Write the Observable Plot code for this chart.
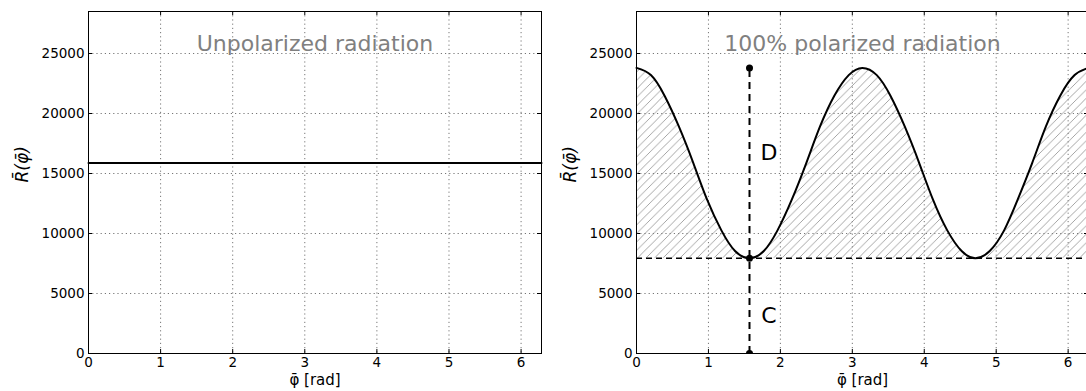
<!DOCTYPE html>
<html>
<head>
<meta charset="utf-8">
<script src="https://cdn.jsdelivr.net/npm/d3@7"></script>
<script src="https://cdn.jsdelivr.net/npm/@observablehq/plot@0.6"></script>
<style>
  html, body { margin: 0; padding: 0; background: white; }
  #wrap { position: relative; width: 1086px; height: 391px; overflow: hidden; background: white; }
  #wrap > div { position: absolute; top: 0; }
  #wrap svg { max-width: none !important; display: block; }
  svg text { font-family: "DejaVu Sans", sans-serif; }
</style>
</head>
<body>
<div id="wrap"><div id="p1" style="left:0px;width:560px"></div><div id="p2" style="left:547px;width:561px"></div></div>
<script>
// ---- data ----
const titles = ["Unpolarized radiation", "100% polarized radiation"];
const xTicks = [0, 1, 2, 3, 4, 5, 6];
const yTicks = [0, 5000, 10000, 15000, 20000, 25000];
const xDomain = [0, 6.2832];
const yDomain = [0, 28500];
const yLabel = "R\u0304(\u03C6\u0304)";
const xLabel = "\u03C6\u0304 [rad]";

// unpolarized: constant level
const phiUnpol = [0, 6.2832];
const rUnpol = [15870, 15870];

// polarized: curve samples
const phiPol = [0,0.2,0.39,0.59,0.79,0.98,1.18,1.37,1.57,1.77,1.96,2.16,2.36,2.55,2.75,2.95,3.14,3.34,3.53,3.73,3.93,4.12,4.32,4.52,4.71,4.91,5.11,5.3,5.5,5.69,5.89,6.09,6.2832];
const rPol = [23800,23200,21480,18900,15870,12840,10260,8540,7940,8540,10260,12840,15870,18900,21480,23200,23800,23200,21480,18900,15870,12840,10260,8540,7940,8540,10260,12840,15870,18900,21480,23200,23800];

// annotation values
const cLevel = 7940;      // minimum (C)
const dTop = 23800;       // maximum
const phiMarker = 1.5708; // position of the C/D marker
const annLabels = [{t: "D", x: 1.84, y: 16700}, {t: "C", x: 1.84, y: 3150}];

const unpol = phiUnpol.map((p, i) => ({phi: p, r: rUnpol[i]}));
const pol = phiPol.map((p, i) => ({phi: p, r: rPol[i]}));

const H = 391, MT = 11, MB = 38;
const plotH = H - MT - MB;

function common(ml, width, plotW, title) {
  return [
    Plot.gridX(xTicks.slice(1), {stroke: "#777", strokeOpacity: 1, strokeDasharray: "1.2,3"}),
    Plot.gridY(yTicks.slice(1), {stroke: "#777", strokeOpacity: 1, strokeDasharray: "1.2,3"}),
    // inward ticks
    Plot.ruleX(xTicks, {stroke: "black", insetTop: plotH - 4}),
    Plot.ruleX(xTicks, {stroke: "black", insetBottom: plotH - 4}),
    Plot.ruleY(yTicks, {stroke: "black", insetRight: plotW - 4}),
    Plot.ruleY(yTicks, {stroke: "black", insetLeft: plotW - 4}),
    Plot.axisX(xTicks, {tickSize: 0, tickPadding: 4, fontSize: 13.5, label: null, tickFormat: d => String(d)}),
    Plot.axisY(yTicks, {tickSize: 0, tickPadding: 4, fontSize: 13.5, label: null, tickFormat: d => String(d)}),
    Plot.text([title], {frameAnchor: "top", dy: 24, fontSize: 22, fill: "#808080"}),
    Plot.text([yLabel], {frameAnchor: "left", dx: -66, rotate: -90, fontSize: 17, fontStyle: "italic", fontFamily: "DejaVu Serif"}),
    Plot.text([xLabel], {frameAnchor: "bottom", dy: 31, fontSize: 15}),
  ];
}

// ---- panel 1 ----
{
  const ml = 88, width = 560, mr = width - ml - 453;
  const plotW = width - ml - mr;
  const chart = Plot.plot({
    width, height: H, marginLeft: ml, marginRight: mr, marginTop: MT, marginBottom: MB,
    style: {fontFamily: "DejaVu Sans", fontSize: "13.5px", background: "white", color: "black"},
    x: {domain: xDomain, axis: null},
    y: {domain: yDomain, axis: null},
    marks: [
      ...common(ml, width, plotW, titles[0]),
      Plot.line(unpol, {x: "phi", y: "r", stroke: "black", strokeWidth: 2}),
      Plot.frame({stroke: "black", strokeWidth: 1})
    ]
  });
  document.getElementById("p1").appendChild(chart);
}

// ---- panel 2 ----
{
  const ml = 89, width = 561, mr = width - ml - 452;
  const plotW = width - ml - mr;
  const chart = Plot.plot({
    width, height: H, marginLeft: ml, marginRight: mr, marginTop: MT, marginBottom: MB,
    style: {fontFamily: "DejaVu Sans", fontSize: "13.5px", background: "white", color: "black"},
    x: {domain: xDomain, axis: null},
    y: {domain: yDomain, axis: null},
    marks: [
      ...common(ml, width, plotW, titles[1]),
      Plot.areaY(pol, {x: "phi", y1: cLevel, y2: "r", curve: "natural", fill: "url(#hatch)", stroke: "none"}),
      Plot.ruleY([cLevel], {stroke: "black", strokeWidth: 1.6, strokeDasharray: "6,4"}),
      Plot.ruleX([phiMarker], {y1: 0, y2: dTop, stroke: "black", strokeWidth: 2, strokeDasharray: "7,5"}),
      Plot.line(pol, {x: "phi", y: "r", curve: "natural", stroke: "black", strokeWidth: 2}),
      Plot.dot([{x: phiMarker, y: dTop}, {x: phiMarker, y: cLevel}, {x: phiMarker, y: 0}], {x: "x", y: "y", r: 3.5, fill: "black", stroke: "none", clip: true}),
      Plot.text(annLabels, {x: "x", y: "y", text: "t", fontSize: 22, fill: "black"}),
      Plot.frame({stroke: "black", strokeWidth: 1})
    ]
  });
  const svg = d3.select(chart.tagName.toLowerCase() === "svg" ? chart : chart.querySelector("svg"));
  const defs = svg.insert("defs", ":first-child");
  const pat = defs.append("pattern").attr("id", "hatch").attr("patternUnits", "userSpaceOnUse")
    .attr("width", 8.5).attr("height", 8.5);
  pat.append("path").attr("d", "M-2,2 L2,-2 M0,8.5 L8.5,0 M6.5,10.5 L10.5,6.5")
    .attr("stroke", "#888").attr("stroke-width", 0.75).attr("fill", "none");
  document.getElementById("p2").appendChild(chart);
}
</script>
</body>
</html>
